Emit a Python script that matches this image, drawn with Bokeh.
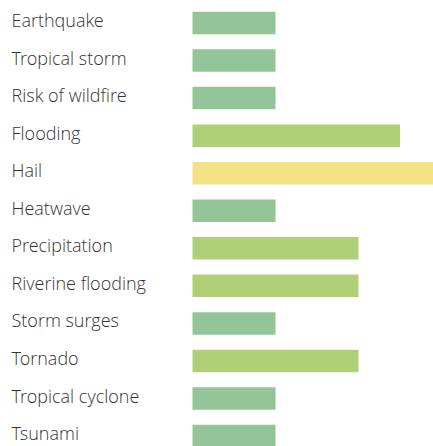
from bokeh.plotting import figure
from bokeh.models import ColumnDataSource, Range1d
from bokeh.core.properties import value
from bokeh.embed import file_html
from bokeh.resources import INLINE

hazards = ["Earthquake", "Tropical storm", "Risk of wildfire", "Flooding", "Hail",
           "Heatwave", "Precipitation", "Riverine flooding", "Storm surges",
           "Tornado", "Tropical cyclone", "Tsunami"]
levels = [2, 2, 2, 5, 6, 2, 4, 4, 2, 4, 2, 2]
palette = {2: "#93c599", 4: "#afd076", 5: "#afd076", 6: "#f3e185"}

W, H = 433, 446
unit = 41.5          # px per level
x0 = 192             # px where bars start
pitch = 37.55        # px between rows
first = 22.5         # px centre of first row

idx = list(range(len(hazards)))
colors = [palette[v] for v in levels]
src = ColumnDataSource(dict(y=idx, v=levels, name=hazards, c=colors))

xr = Range1d(-x0 / unit, (W - x0) / unit)
yr = Range1d((H - first) / pitch, -first / pitch)

p = figure(width=W, height=H, x_range=xr, y_range=yr, output_backend="svg",
           toolbar_location=None, min_border=0, outline_line_color=None)
p.axis.visible = False
p.grid.visible = False
p.background_fill_color = "white"
p.border_fill_color = "white"

p.hbar(y="y", left=0, right="v", height=22.5 / pitch, fill_color="c",
       line_color=None, source=src)

p.text(x=-x0 / unit, y="y", text="name", source=src, x_offset=11, y_offset=-3,
       text_font=value("Open Sans Light, Open Sans"), text_font_size="18px",
       text_color="#333333", text_baseline="alphabetic", text_align="left")

open("out.html", "w").write(file_html(p, INLINE))
